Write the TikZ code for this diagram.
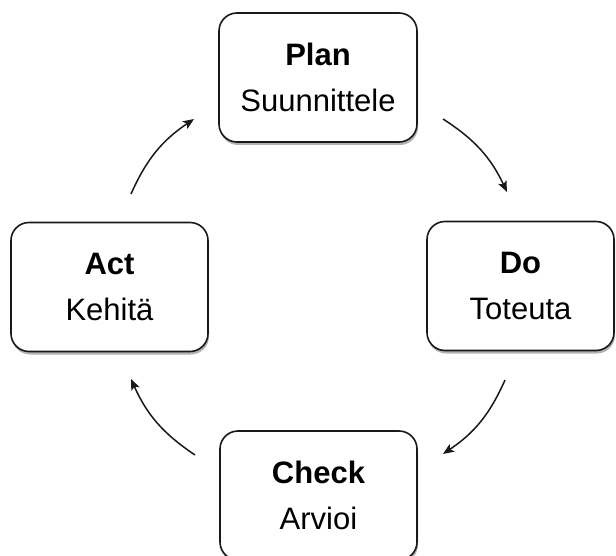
\documentclass[tikz,border=0pt]{standalone}
\usepackage{fontspec}
\setmainfont{Liberation Sans}
\usetikzlibrary{arrows.meta,shadows}
\tikzset{
  stagebox/.style={draw=black!90, line width=1.6pt, rounded corners=18pt, fill=white,
    minimum height=129pt, inner sep=0pt, align=center,
    font=\fontsize{31}{46}\selectfont,
    drop shadow={shadow xshift=1pt, shadow yshift=-3pt, opacity=0.3, fill=black}},
  cyclearrow/.style={line width=1.5pt, draw=black!90, -{Stealth[length=11pt,width=9pt,inset=2.5pt]}, bend left=16}
}
\begin{document}
\begin{tikzpicture}[x=1pt,y=-1pt]
\useasboundingbox (0,0) rectangle (616,556);
\node[stagebox, minimum width=198pt] (plan) at (318,77.5) {\textbf{Plan}\\Suunnittele};
\node[stagebox, minimum width=187pt] (do) at (520.5,286) {\textbf{Do}\\Toteuta};
\node[stagebox, minimum width=197pt] (check) at (318.5,495.5) {\textbf{Check}\\Arvioi};
\node[stagebox, minimum width=197pt] (act) at (109.5,287) {\textbf{Act}\\Kehitä};
\coordinate (pd1) at (443,119);
\coordinate (pd2) at (507,192);
\coordinate (dc1) at (505,380);
\coordinate (dc2) at (443,454);
\coordinate (ca1) at (195,455);
\coordinate (ca2) at (131,379);
\coordinate (ap1) at (131,194);
\coordinate (ap2) at (194,119);
\draw[cyclearrow] (pd1) to (pd2);
\draw[cyclearrow] (dc1) to (dc2);
\draw[cyclearrow] (ca1) to (ca2);
\draw[cyclearrow] (ap1) to (ap2);
\end{tikzpicture}
\end{document}
